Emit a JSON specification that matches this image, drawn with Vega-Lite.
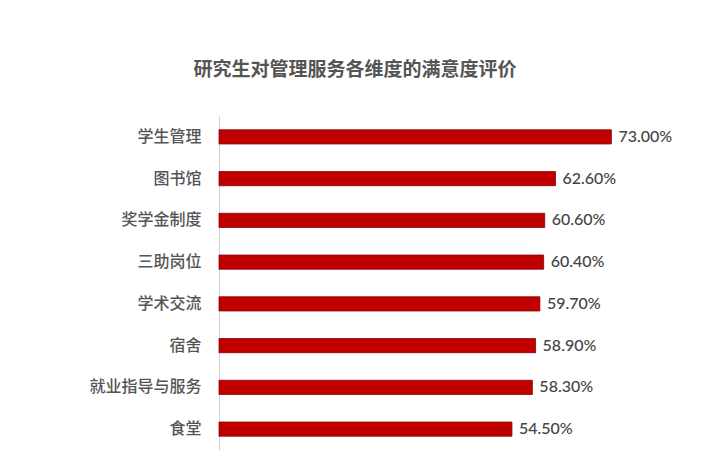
{
  "$schema": "https://vega.github.io/schema/vega-lite/v6.json",
  "autosize": "none",
  "padding": {"left": 219, "top": 116, "right": 71, "bottom": 19},
  "width": 430,
  "height": 334,
  "background": "white",
  "title": {
    "text": "研究生对管理服务各维度的满意度评价",
    "anchor": "middle",
    "frame": "group",
    "dx": -79,
    "offset": 36,
    "font": "Noto Sans CJK SC",
    "fontSize": 19,
    "fontWeight": "bold",
    "color": "#555555"
  },
  "data": {
    "values": [
      {"item": "学生管理", "value": 0.73},
      {"item": "图书馆", "value": 0.626},
      {"item": "奖学金制度", "value": 0.606},
      {"item": "三助岗位", "value": 0.604},
      {"item": "学术交流", "value": 0.597},
      {"item": "宿舍", "value": 0.589},
      {"item": "就业指导与服务", "value": 0.583},
      {"item": "食堂", "value": 0.545}
    ]
  },
  "encoding": {
    "y": {
      "field": "item",
      "type": "nominal",
      "sort": null,
      "scale": {"paddingInner": 0.66, "paddingOuter": 0.33},
      "axis": {
        "title": null,
        "ticks": false,
        "domainColor": "#d0d0d0",
        "labelPadding": 18,
        "labelFont": "Noto Sans CJK SC",
        "labelFontSize": 16,
        "labelFontWeight": 500,
        "labelColor": "#555555"
      }
    },
    "x": {
      "field": "value",
      "type": "quantitative",
      "scale": {"domain": [0, 0.8]},
      "axis": null
    }
  },
  "layer": [
    {
      "mark": {"type": "bar", "color": "#c00000", "stroke": "#8a0000", "strokeWidth": 0.8}
    },
    {
      "mark": {
        "type": "text",
        "align": "left",
        "dx": 7,
        "font": "Lato",
        "fontSize": 16,
        "fontWeight": 500,
        "color": "#444444"
      },
      "encoding": {
        "text": {"field": "value", "type": "quantitative", "format": ".2%"}
      }
    }
  ],
  "config": {"view": {"stroke": null}}
}
